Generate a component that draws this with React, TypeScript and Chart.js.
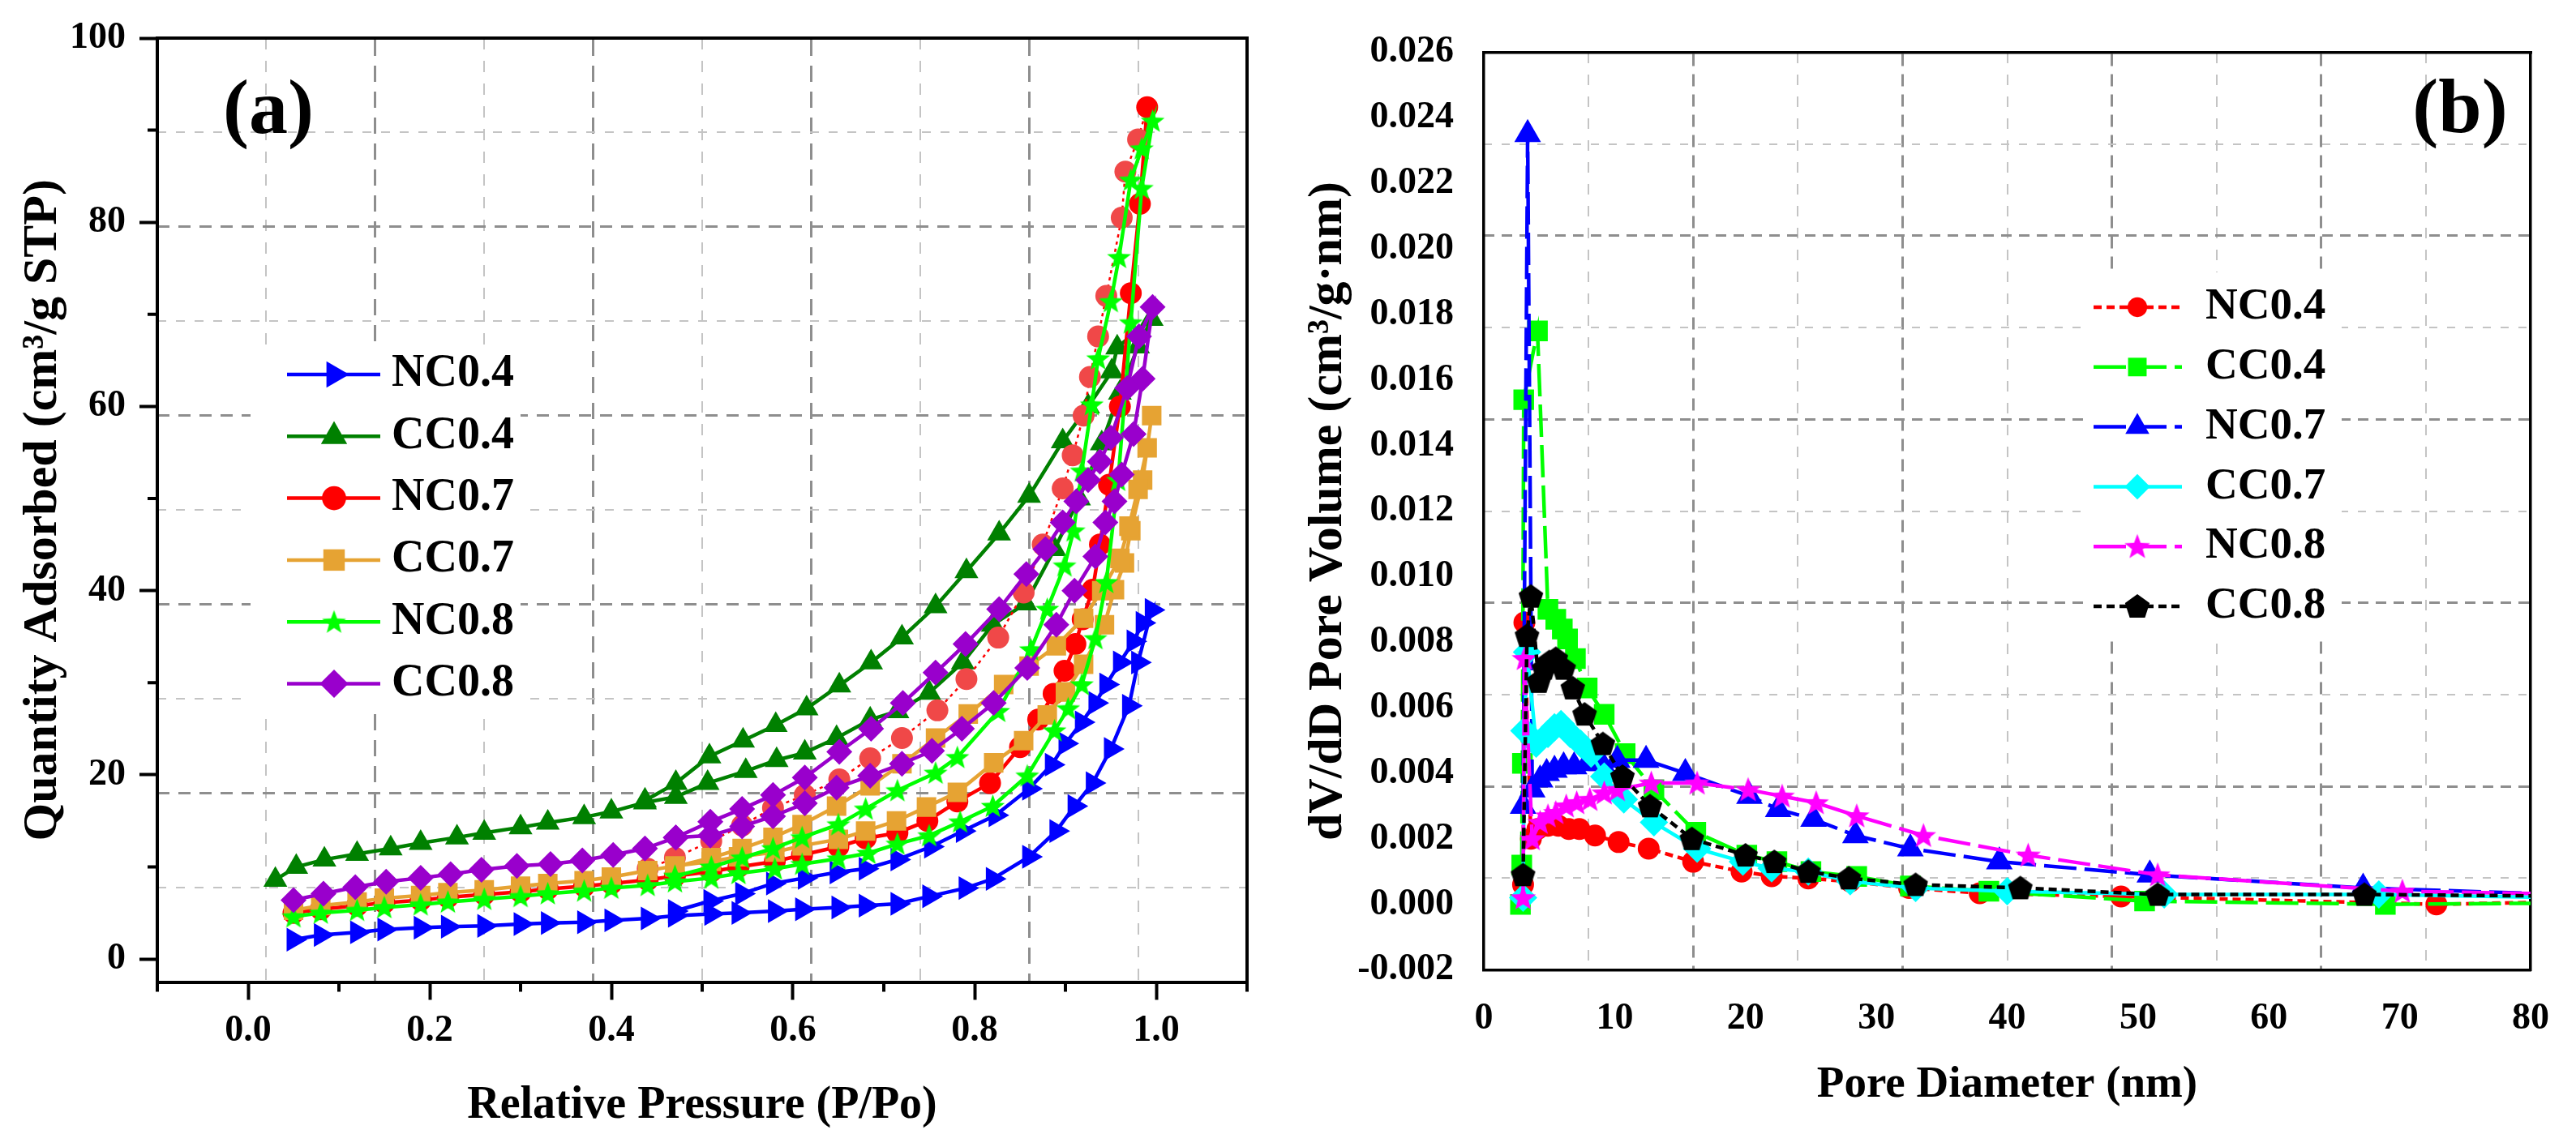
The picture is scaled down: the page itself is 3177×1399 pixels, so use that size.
import React, { useEffect, useRef } from 'react';
import { Chart, registerables } from 'chart.js';
import { drawPoint } from 'chart.js/helpers';

Chart.register(...registerables);

const SERIF = "'Liberation Serif', 'Times New Roman', serif";

// ---- (a) isotherm axes
const pressureTicks = [0, 0.2, 0.4, 0.6, 0.8, 1.0];
const pressureMinor = [-0.1, 0.1, 0.3, 0.5, 0.7, 0.9, 1.1];
const quantityTicks = [0, 20, 40, 60, 80, 100];
const quantityMinor = [10, 30, 50, 70, 90];

// ---- (b) pore size axes
const diameterTicks = [0, 10, 20, 30, 40, 50, 60, 70, 80];
const volumeTicks = [-0.002, 0, 0.002, 0.004, 0.006, 0.008, 0.01, 0.012, 0.014, 0.016, 0.018, 0.02, 0.022, 0.024, 0.026];

// background grid: ten divisions each way, light and dark lines alternate
const gridDivisions = [0, 1, 2, 3, 4, 5, 6, 7, 8, 9, 10];

// ---- (a) adsorption (P/Po rising) then desorption (falling), cm3/g STP
const nc04AdsP = [0.05, 0.08, 0.12, 0.15, 0.19, 0.22, 0.26, 0.30, 0.33, 0.37, 0.40, 0.44, 0.47, 0.51, 0.54, 0.58, 0.61, 0.65, 0.68, 0.715, 0.75, 0.79, 0.82, 0.86, 0.89, 0.91, 0.93, 0.95, 0.97, 0.98, 0.995];
const nc04AdsQ = [2.1, 2.6, 2.9, 3.2, 3.4, 3.5, 3.6, 3.8, 3.9, 4.0, 4.2, 4.4, 4.7, 4.9, 5.0, 5.2, 5.4, 5.6, 5.8, 6.0, 6.8, 7.7, 8.7, 11.1, 13.9, 16.6, 19.1, 22.8, 27.5, 32.2, 37.9];
const nc04DesP = [0.985, 0.975, 0.96, 0.945, 0.933, 0.918, 0.90, 0.885, 0.86, 0.823, 0.787, 0.752, 0.715, 0.68, 0.648, 0.613, 0.578, 0.544, 0.509, 0.47];
const nc04DesQ = [36.5, 34.5, 32.2, 29.8, 27.8, 25.7, 23.4, 21.1, 18.5, 15.6, 13.9, 12.2, 10.8, 9.8, 9.4, 8.8, 8.2, 7.1, 6.3, 5.2];

const cc04AdsP = [0.03, 0.053, 0.084, 0.12, 0.157, 0.19, 0.23, 0.26, 0.30, 0.33, 0.37, 0.40, 0.437, 0.471, 0.506, 0.548, 0.582, 0.613, 0.648, 0.685, 0.715, 0.75, 0.787, 0.82, 0.856, 0.888, 0.915, 0.94, 0.96, 0.98, 0.995];
const cc04AdsQ = [8.6, 10.0, 10.8, 11.4, 12.0, 12.6, 13.2, 13.7, 14.3, 14.8, 15.4, 16.0, 17.0, 17.6, 19.1, 20.4, 21.6, 22.4, 24.0, 26.0, 26.9, 28.9, 32.2, 36.3, 38.6, 44.5, 50.0, 56.0, 61.5, 66.5, 69.5];
const cc04DesP = [0.957, 0.951, 0.925, 0.897, 0.86, 0.827, 0.791, 0.757, 0.72, 0.686, 0.651, 0.615, 0.581, 0.545, 0.508, 0.471, 0.437];
const cc04DesQ = [66.4, 63.8, 60.0, 56.2, 50.3, 46.2, 42.1, 38.3, 34.9, 32.2, 29.7, 27.2, 25.4, 23.7, 22.0, 19.1, 17.2];

const nc07AdsP = [0.05, 0.08, 0.12, 0.15, 0.19, 0.22, 0.26, 0.30, 0.33, 0.37, 0.40, 0.44, 0.47, 0.51, 0.54, 0.58, 0.61, 0.65, 0.68, 0.715, 0.748, 0.781, 0.817, 0.85, 0.87, 0.887, 0.899, 0.911, 0.919, 0.93, 0.938, 0.948, 0.96, 0.972, 0.982, 0.99];
const nc07AdsQ = [5.0, 5.4, 5.8, 6.1, 6.4, 6.7, 7.0, 7.3, 7.6, 7.9, 8.2, 8.6, 9.0, 9.5, 10.0, 10.6, 11.3, 12.2, 13.1, 13.7, 15.0, 17.1, 19.1, 23.0, 26.0, 28.8, 31.3, 34.2, 36.9, 40.1, 45.0, 51.5, 60.0, 72.3, 82.0, 92.5];
const nc07DesP = [0.98, 0.966, 0.962, 0.945, 0.936, 0.927, 0.92, 0.908, 0.897, 0.875, 0.854, 0.826, 0.791, 0.759, 0.72, 0.685, 0.651, 0.613, 0.578, 0.544, 0.51, 0.47, 0.44];
const nc07DesQ = [89.0, 85.5, 80.5, 72.0, 67.6, 63.2, 59.0, 54.7, 51.1, 45.0, 39.8, 34.9, 30.4, 27.0, 24.0, 21.8, 19.5, 17.8, 16.4, 14.5, 12.8, 11.0, 9.8];

const cc07AdsP = [0.05, 0.08, 0.12, 0.15, 0.19, 0.22, 0.26, 0.30, 0.33, 0.37, 0.40, 0.44, 0.47, 0.51, 0.54, 0.58, 0.61, 0.65, 0.68, 0.714, 0.747, 0.781, 0.821, 0.854, 0.88, 0.90, 0.92, 0.943, 0.954, 0.965, 0.972, 0.985, 0.995];
const cc07AdsQ = [5.3, 5.8, 6.2, 6.6, 6.9, 7.2, 7.5, 7.9, 8.2, 8.5, 8.9, 9.6, 10.1, 10.6, 11.1, 11.6, 12.3, 13.0, 13.9, 15.0, 16.5, 18.1, 21.3, 23.7, 26.5, 29.0, 32.0, 36.3, 40.1, 43.0, 46.5, 52.0, 59.0];
const cc07DesP = [0.99, 0.98, 0.97, 0.96, 0.94, 0.92, 0.89, 0.86, 0.832, 0.793, 0.757, 0.72, 0.685, 0.648, 0.61, 0.578, 0.544, 0.51, 0.47];
const cc07DesQ = [55.5, 51.0, 47.0, 43.5, 40.0, 37.0, 34.0, 31.8, 29.8, 26.6, 24.0, 21.2, 18.8, 16.6, 14.6, 13.2, 12.0, 11.0, 10.0];

const nc08AdsP = [0.05, 0.08, 0.12, 0.15, 0.19, 0.22, 0.26, 0.30, 0.33, 0.37, 0.40, 0.44, 0.47, 0.51, 0.54, 0.58, 0.61, 0.65, 0.683, 0.715, 0.75, 0.784, 0.82, 0.858, 0.888, 0.903, 0.918, 0.933, 0.945, 0.958, 0.972, 0.984, 0.996];
const nc08AdsQ = [4.6, 5.0, 5.3, 5.6, 5.9, 6.2, 6.5, 6.8, 7.1, 7.4, 7.7, 8.0, 8.4, 8.8, 9.3, 9.8, 10.3, 10.9, 11.5, 12.5, 13.4, 14.9, 16.6, 19.9, 24.8, 27.2, 29.8, 34.8, 40.9, 52.0, 69.1, 83.7, 91.0];
const nc08DesP = [0.984, 0.972, 0.959, 0.95, 0.936, 0.929, 0.918, 0.909, 0.899, 0.88, 0.862, 0.826, 0.781, 0.757, 0.715, 0.68, 0.65, 0.61, 0.578, 0.544, 0.51, 0.47];
const nc08DesQ = [88.0, 84.6, 76.2, 71.4, 65.2, 60.2, 53.0, 46.5, 42.7, 38.0, 33.6, 26.9, 21.9, 20.2, 18.3, 16.3, 14.6, 13.2, 12.0, 11.0, 10.0, 9.0];

const cc08AdsP = [0.05, 0.083, 0.118, 0.152, 0.19, 0.223, 0.257, 0.296, 0.333, 0.368, 0.402, 0.437, 0.471, 0.509, 0.544, 0.578, 0.613, 0.648, 0.685, 0.72, 0.753, 0.786, 0.821, 0.858, 0.89, 0.91, 0.933, 0.944, 0.954, 0.962, 0.975, 0.985, 0.996];
const cc08AdsQ = [6.4, 7.1, 7.8, 8.4, 8.8, 9.2, 9.7, 10.1, 10.3, 10.7, 11.3, 12.0, 13.2, 13.4, 14.4, 15.5, 16.9, 18.6, 19.9, 21.2, 22.6, 25.0, 27.8, 31.6, 36.3, 40.0, 43.7, 47.4, 49.7, 52.6, 57.0, 63.0, 70.8];
const cc08DesP = [0.981, 0.968, 0.95, 0.938, 0.925, 0.912, 0.897, 0.878, 0.857, 0.827, 0.79, 0.757, 0.721, 0.686, 0.651, 0.613, 0.578, 0.544, 0.509, 0.471];
const cc08DesQ = [67.6, 62.0, 56.6, 54.0, 52.0, 49.7, 47.4, 44.5, 41.8, 38.0, 34.2, 31.1, 27.8, 25.0, 22.5, 19.7, 17.8, 16.3, 14.9, 13.2];

// ---- (b) pore diameter (nm) vs dV/dD (cm3/g.nm); last point lies past the axis end
const nc04D = [3.0, 3.1, 3.6, 4.1, 4.9, 5.7, 6.5, 7.3, 8.5, 10.3, 12.6, 16.0, 19.7, 22.0, 24.8, 28.0, 32.5, 37.9, 48.7, 72.8, 98];
const nc04V = [0.0006, 0.0086, 0.002, 0.0023, 0.0024, 0.0024, 0.0023, 0.0023, 0.0021, 0.0019, 0.0017, 0.0013, 0.001, 0.00086, 0.00079, 0.0007, 0.0005, 0.00034, 0.00024, 0.0, 0.0002];
const cc04D = [2.8, 2.9, 2.95, 3.05, 4.1, 4.9, 5.5, 6.0, 6.4, 7.0, 7.9, 9.2, 10.8, 13.0, 16.2, 20.1, 22.4, 25.0, 28.5, 32.6, 38.6, 50.5, 68.9, 98];
const cc04V = [0.0, 0.0012, 0.0043, 0.0154, 0.0175, 0.009, 0.0087, 0.0084, 0.0081, 0.0075, 0.0066, 0.0058, 0.0046, 0.0035, 0.0022, 0.0015, 0.0013, 0.001, 0.00085, 0.00056, 0.0004, 0.0001, 0.0, 0.00008];
const nc07D = [3.0, 3.35, 3.7, 4.3, 4.8, 5.4, 6.1, 6.9, 7.9, 9.0, 10.2, 12.4, 15.4, 20.3, 22.5, 25.2, 28.4, 32.6, 39.4, 50.9, 67.2, 98];
const nc07V = [0.003, 0.0235, 0.0035, 0.0038, 0.004, 0.0041, 0.0042, 0.0042, 0.0043, 0.0043, 0.0044, 0.0044, 0.004, 0.0033, 0.0029, 0.0026, 0.0021, 0.0017, 0.0013, 0.0009, 0.0005, 0.0001];
const cc07D = [3.0, 3.1, 3.3, 4.0, 4.9, 5.4, 5.9, 6.6, 7.4, 8.2, 9.2, 10.7, 13.0, 16.3, 19.8, 22.0, 24.8, 28.0, 33.0, 40.0, 52.0, 68.4, 98];
const cc07V = [0.0002, 0.0053, 0.0077, 0.0049, 0.0052, 0.0054, 0.0055, 0.0052, 0.0049, 0.0046, 0.0039, 0.0032, 0.0025, 0.0017, 0.0013, 0.0011, 0.001, 0.0007, 0.0005, 0.0004, 0.0003, 0.0003, 0.0001];
const nc08D = [3.0, 3.1, 3.7, 4.3, 4.9, 5.5, 6.3, 7.1, 8.1, 9.2, 10.2, 12.8, 16.3, 20.2, 22.8, 25.4, 28.5, 33.6, 41.6, 51.5, 70.2, 98];
const nc08V = [0.0002, 0.0075, 0.002, 0.0025, 0.0027, 0.0028, 0.003, 0.0031, 0.0032, 0.0034, 0.0035, 0.0037, 0.0037, 0.0035, 0.0033, 0.0031, 0.0027, 0.0021, 0.0015, 0.0009, 0.0004, 0.0002];
const cc08D = [3.0, 3.3, 3.6, 4.2, 4.6, 5.0, 5.5, 6.1, 6.8, 7.7, 9.1, 10.6, 12.7, 15.9, 20.0, 22.2, 24.8, 27.9, 33.0, 41.0, 51.5, 67.3, 98];
const cc08V = [0.0009, 0.0082, 0.0094, 0.0068, 0.0072, 0.0074, 0.0075, 0.0072, 0.0066, 0.0058, 0.0049, 0.0039, 0.003, 0.002, 0.0015, 0.0013, 0.001, 0.0008, 0.0006, 0.0005, 0.0003, 0.0003, 0.0002];

const pts = (xs: number[], ys: number[]) => xs.map((x, i) => ({ x, y: ys[i] }));

// filled star / pentagon markers (chart.js only has a stroked star)
const shapeImage = (kind: 'star' | 'pentagon', color: string, size: number) => {
  const c = document.createElement('canvas');
  c.width = size;
  c.height = size;
  const g = c.getContext('2d');
  if (!g) return c;
  const n = kind === 'star' ? 10 : 5;
  const R = size / 2;
  const cy = R * 1.06;
  g.fillStyle = color;
  g.beginPath();
  for (let i = 0; i < n; i++) {
    const rr = kind === 'star' && i % 2 ? R * 0.42 : R;
    const a = -Math.PI / 2 + (i * 2 * Math.PI) / n;
    const px = R + rr * Math.cos(a);
    const py = cy + rr * Math.sin(a);
    if (i) g.lineTo(px, py);
    else g.moveTo(px, py);
  }
  g.closePath();
  g.fill();
  return c;
};

const gridScale = (axis: 'x' | 'y', odd: boolean, dash: number[], frame: number) => ({
  type: 'linear',
  axis,
  position: axis === 'x' ? 'top' : 'right',
  min: 0,
  max: 10,
  afterBuildTicks: (s: any) => {
    s.ticks = gridDivisions.map((value) => ({ value }));
  },
  afterFit: (s: any) => {
    if (axis === 'x') s.height = 0;
    else s.width = 0;
  },
  ticks: { display: false },
  grid: {
    drawTicks: false,
    lineWidth: odd ? 2 : 3,
    color: (c: any) => {
      const v = c.tick ? c.tick.value : -1;
      const show = v > 0 && v < 10 && (v % 2 === 1) === odd;
      if (!show) return 'rgba(0,0,0,0)';
      return odd ? '#c4c4c4' : '#8e8e8e';
    },
  },
  border: { display: !odd, color: '#000', width: frame, dash },
});

interface LegendCfg {
  x0: number;
  x1: number;
  xm: number;
  xt: number;
  y0: number;
  dy: number;
  fontSize: number;
  markerScale: number;
  box: number[];
  tag: string;
  tagX: number;
  tagY: number;
}

const legendPlugin = (cfg: LegendCfg) => ({
  id: 'panelLegend',
  beforeDatasetsDraw(chart: any) {
    const { ctx } = chart;
    ctx.save();
    ctx.fillStyle = '#fff';
    ctx.fillRect(cfg.box[0], cfg.box[1], cfg.box[2], cfg.box[3]);
    ctx.restore();
  },
  afterDraw(chart: any) {
    const { ctx } = chart;
    ctx.save();
    chart.data.datasets.forEach((ds: any, i: number) => {
      const y = cfg.y0 + i * cfg.dy;
      ctx.strokeStyle = ds.borderColor;
      ctx.lineWidth = 4.5;
      ctx.setLineDash(ds.borderDash || []);
      ctx.beginPath();
      ctx.moveTo(cfg.x0, y);
      ctx.lineTo(cfg.x1, y);
      ctx.stroke();
      ctx.setLineDash([]);
      ctx.fillStyle = ds.borderColor;
      drawPoint(
        ctx,
        { pointStyle: ds.pointStyle, rotation: ds.pointRotation || 0, radius: ds.pointRadius * cfg.markerScale, borderWidth: 0 },
        cfg.xm,
        y
      );
      ctx.fillStyle = '#000';
      ctx.font = `bold ${cfg.fontSize}px ${SERIF}`;
      ctx.textAlign = 'left';
      ctx.textBaseline = 'middle';
      ctx.fillText(ds.label, cfg.xt, y);
    });
    ctx.font = `bold 96px ${SERIF}`;
    ctx.textAlign = 'center';
    ctx.textBaseline = 'middle';
    ctx.fillStyle = '#000';
    ctx.fillText(cfg.tag, cfg.tagX, cfg.tagY);
    ctx.restore();
  },
});

// short minor ticks on panel (a), placed with the chart's own scales
const minorTickPlugin = {
  id: 'minorTicks',
  afterDraw(chart: any) {
    const { ctx, chartArea, scales } = chart;
    ctx.save();
    ctx.strokeStyle = '#000';
    ctx.lineWidth = 4;
    ctx.beginPath();
    pressureMinor.forEach((v) => {
      const px = scales.x.getPixelForValue(v);
      ctx.moveTo(px, chartArea.bottom);
      ctx.lineTo(px, chartArea.bottom + 12);
    });
    quantityMinor.forEach((v) => {
      const py = scales.y.getPixelForValue(v);
      ctx.moveTo(chartArea.left, py);
      ctx.lineTo(chartArea.left - 12, py);
    });
    ctx.stroke();
    ctx.restore();
  },
};

const tickFont = { family: SERIF, size: 46, weight: 'bold' as const };

export default function App() {
  const aRef = useRef<HTMLCanvasElement>(null);
  const bRef = useRef<HTMLCanvasElement>(null);

  useEffect(() => {
    if (!aRef.current || !bRef.current) return;

    const isoSpec: any[] = [
      { label: 'NC0.4', color: '#0000ff', style: 'triangle', rot: 90, r: 17, p: [...nc04AdsP, ...nc04DesP], q: [...nc04AdsQ, ...nc04DesQ] },
      { label: 'CC0.4', color: '#008000', style: 'triangle', rot: 0, r: 17, p: [...cc04AdsP, ...cc04DesP], q: [...cc04AdsQ, ...cc04DesQ] },
      { label: 'NC0.7', color: '#ff0000', style: 'circle', rot: 0, r: 13.5, p: [...nc07AdsP, ...nc07DesP], q: [...nc07AdsQ, ...nc07DesQ] },
      { label: 'CC0.7', color: '#e6a333', style: 'rect', rot: 0, r: 17, p: [...cc07AdsP, ...cc07DesP], q: [...cc07AdsQ, ...cc07DesQ] },
      { label: 'NC0.8', color: '#00ff00', style: shapeImage('star', '#00ff00', 31), rot: 0, r: 15, p: [...nc08AdsP, ...nc08DesP], q: [...nc08AdsQ, ...nc08DesQ] },
      { label: 'CC0.8', color: '#9900cc', style: 'rectRot', rot: 0, r: 16, p: [...cc08AdsP, ...cc08DesP], q: [...cc08AdsQ, ...cc08DesQ] },
    ];

    const nc07Split = nc07AdsP.length - 1;
    const isoDatasets = isoSpec.map((s, i) => {
      const isNC07 = s.label === 'NC0.7';
      return {
        type: 'line' as const,
        label: s.label,
        data: pts(s.p, s.q),
        xAxisID: 'x',
        yAxisID: 'y',
        borderColor: s.color,
        backgroundColor: s.color,
        borderWidth: 4.5,
        pointStyle: s.style,
        pointRotation: s.rot,
        pointRadius: s.r,
        pointBorderWidth: 0,
        pointBackgroundColor: isNC07 ? s.p.map((_: number, k: number) => (k > nc07Split ? '#f04848' : '#ff0000')) : s.color,
        pointBorderColor: s.color,
        segment: isNC07
          ? {
              borderDash: (c: any) => (c.p0DataIndex >= nc07Split ? [4, 5] : undefined),
              borderWidth: (c: any) => (c.p0DataIndex >= nc07Split ? 2.5 : undefined),
            }
          : undefined,
        tension: 0,
        fill: false,
        order: isoSpec.length - i,
      };
    });

    const poreSpec: any[] = [
      { label: 'NC0.4', color: '#ff0000', style: 'circle', r: 13.5, dash: [10, 6], d: nc04D, v: nc04V },
      { label: 'CC0.4', color: '#00ff00', style: 'rect', r: 18, dash: [40, 10], d: cc04D, v: cc04V },
      { label: 'NC0.7', color: '#0000ff', style: 'triangle', r: 19, dash: [40, 10], d: nc07D, v: nc07V },
      { label: 'CC0.7', color: '#00ffff', style: 'rectRot', r: 17.5, dash: [], d: cc07D, v: cc07V },
      { label: 'NC0.8', color: '#ff00ff', style: shapeImage('star', '#ff00ff', 33), r: 16, dash: [40, 10], d: nc08D, v: nc08V },
      { label: 'CC0.8', color: '#000000', style: shapeImage('pentagon', '#000000', 32), r: 16, dash: [10, 6], d: cc08D, v: cc08V },
    ];

    const poreDatasets = poreSpec.map((s, i) => ({
      type: 'line' as const,
      label: s.label,
      data: pts(s.d, s.v),
      xAxisID: 'x',
      yAxisID: 'y',
      borderColor: s.color,
      backgroundColor: s.color,
      borderWidth: 4.5,
      borderDash: s.dash,
      pointStyle: s.style,
      pointRadius: s.r,
      pointBorderWidth: 0,
      pointBackgroundColor: s.color,
      pointBorderColor: s.color,
      tension: 0,
      fill: false,
      order: poreSpec.length - i,
    }));

    const chartA = new Chart(aRef.current, {
      type: 'line',
      data: { datasets: isoDatasets as any },
      options: {
        responsive: false,
        maintainAspectRatio: false,
        animation: false,
        events: [],
        layout: { padding: { top: 47, right: 22, bottom: 0, left: 0 } },
        plugins: { legend: { display: false }, tooltip: { enabled: false } },
        scales: {
          x: {
            type: 'linear',
            position: 'bottom',
            min: -0.1,
            max: 1.1,
            afterBuildTicks: (s: any) => {
              s.ticks = pressureTicks.map((value) => ({ value }));
            },
            afterFit: (s: any) => {
              s.height = 187.5;
            },
            ticks: { color: '#000', font: tickFont, padding: 11, maxRotation: 0, autoSkip: false, callback: (v: any) => Number(v).toFixed(1) },
            grid: { drawOnChartArea: false, tickLength: 22, tickWidth: 4, tickColor: '#000' },
            border: { color: '#000', width: 4 },
            title: {
              display: true,
              text: 'Relative Pressure (P/Po)',
              color: '#000',
              font: { family: SERIF, size: 56, weight: 'bold' },
              padding: { top: 0, bottom: 1 },
            },
          },
          y: {
            type: 'linear',
            position: 'left',
            min: -2.5,
            max: 100,
            afterBuildTicks: (s: any) => {
              s.ticks = quantityTicks.map((value) => ({ value }));
            },
            afterFit: (s: any) => {
              s.width = 194;
            },
            ticks: { color: '#000', font: tickFont, padding: 17, autoSkip: false, callback: (v: any) => String(v) },
            grid: { drawOnChartArea: false, tickLength: 22, tickWidth: 4, tickColor: '#000' },
            border: { color: '#000', width: 4 },
            title: {
              display: true,
              text: 'Quantity Adsorbed (cm³/g STP)',
              color: '#000',
              font: { family: SERIF, size: 60, weight: 'bold' },
              padding: { top: 17, bottom: 0 },
            },
          },
          gx1: gridScale('x', true, [14, 14], 4),
          gx2: gridScale('x', false, [20, 12], 4),
          gy1: gridScale('y', true, [11, 12], 4),
          gy2: gridScale('y', false, [15, 11], 4),
        } as any,
      },
      plugins: [
        minorTickPlugin,
        legendPlugin({
          x0: 354,
          x1: 469,
          xm: 412,
          xt: 483,
          y0: 462,
          dy: 76.3,
          fontSize: 56,
          markerScale: 1.1,
          box: [309, 425, 333, 448],
          tag: '(a)',
          tagX: 331,
          tagY: 139,
        }),
      ],
    });

    const chartB = new Chart(bRef.current, {
      type: 'line',
      data: { datasets: poreDatasets as any },
      options: {
        responsive: false,
        maintainAspectRatio: false,
        animation: false,
        events: [],
        layout: { padding: { top: 62, right: 34.5, bottom: 0, left: 0 } },
        plugins: { legend: { display: false }, tooltip: { enabled: false } },
        scales: {
          x: {
            type: 'linear',
            position: 'bottom',
            min: 0,
            max: 80,
            afterBuildTicks: (s: any) => {
              s.ticks = diameterTicks.map((value) => ({ value }));
            },
            afterFit: (s: any) => {
              s.height = 202.5;
            },
            ticks: { color: '#000', font: tickFont, padding: 33, maxRotation: 0, autoSkip: false, callback: (v: any) => String(v) },
            grid: { display: false, drawTicks: false },
            border: { color: '#000', width: 3.5 },
            title: {
              display: true,
              text: 'Pore Diameter (nm)',
              color: '#000',
              font: { family: SERIF, size: 55, weight: 'bold' },
              padding: { top: 0, bottom: 27 },
            },
          },
          y: {
            type: 'linear',
            position: 'left',
            min: -0.002,
            max: 0.026,
            afterBuildTicks: (s: any) => {
              s.ticks = volumeTicks.map((value) => ({ value }));
            },
            afterFit: (s: any) => {
              s.width = 270;
            },
            ticks: { color: '#000', font: tickFont, padding: 37, autoSkip: false, callback: (v: any) => Number(v).toFixed(3) },
            grid: { display: false, drawTicks: false },
            border: { color: '#000', width: 3.5 },
            title: {
              display: true,
              text: 'dV/dD Pore Volume (cm³/g·nm)',
              color: '#000',
              font: { family: SERIF, size: 60, weight: 'bold' },
              padding: { top: 42, bottom: 0 },
            },
          },
          gx1: gridScale('x', true, [13, 14], 3.5),
          gx2: gridScale('x', false, [15, 10], 3.5),
          gy1: gridScale('y', true, [10, 12], 3.5),
          gy2: gridScale('y', false, [13, 9], 3.5),
        } as any,
      },
      plugins: [
        legendPlugin({
          x0: 1022,
          x1: 1131,
          xm: 1076,
          xt: 1160,
          y0: 379,
          dy: 73.8,
          fontSize: 55,
          markerScale: 0.9,
          box: [1012, 336, 316, 455],
          tag: '(b)',
          tagX: 1474,
          tagY: 138,
        }),
      ],
    });

    return () => {
      chartA.destroy();
      chartB.destroy();
    };
  }, []);

  return (
    <div style={{ position: 'absolute', left: 0, top: 0, width: 3177, height: 1399, background: '#fff', overflow: 'hidden' }}>
      <canvas ref={aRef} width={1560} height={1399} style={{ position: 'absolute', left: 0, top: 0, width: 1560, height: 1399 }} />
      <canvas ref={bRef} width={1617} height={1399} style={{ position: 'absolute', left: 1560, top: 0, width: 1617, height: 1399 }} />
    </div>
  );
}
